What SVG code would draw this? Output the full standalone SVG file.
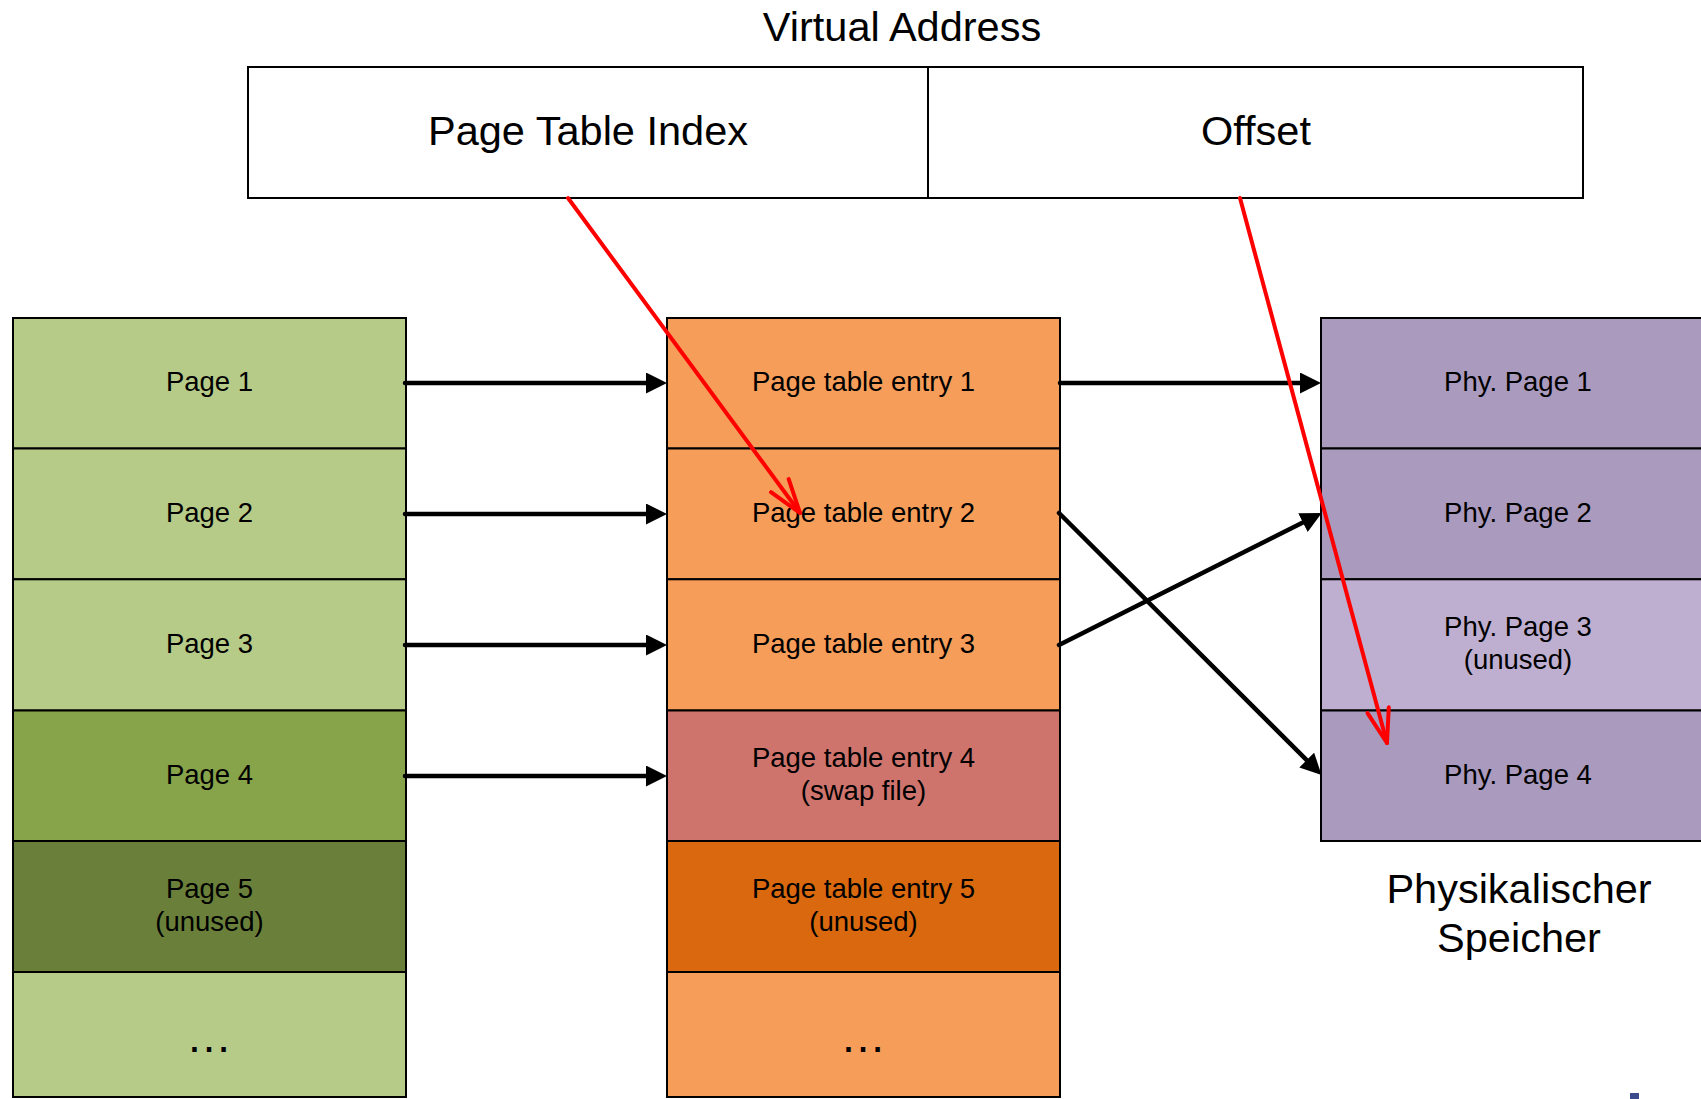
<svg xmlns="http://www.w3.org/2000/svg" width="1701" height="1099" viewBox="0 0 1701 1099">
<defs>
<style>
text{font-family:"Liberation Sans",Arial,sans-serif;fill:#000;text-anchor:middle}
.t{font-size:27.5px}
.big{font-size:41.5px}
.ell{font-size:46px}
.cell{stroke:#000;stroke-width:2}
.g1{fill:#B7CB88}.g2{fill:#87A44A}.g3{fill:#6A803A}
.o1{fill:#F59D59}.o2{fill:#CE746C}.o3{fill:#D9680F}
.p1{fill:#A99ABE}.p2{fill:#BEAFD0}
.blk{stroke:#000;stroke-width:4.5;fill:none;stroke-linecap:round}
.red{stroke:#FF0000;stroke-width:4;fill:none;stroke-linecap:round}
</style>
<marker id="ah" viewBox="0 0 21 21" refX="11" refY="10.5" markerWidth="21" markerHeight="21" markerUnits="userSpaceOnUse" orient="auto">
<path d="M0,0 L21,10.5 L0,21 Z" fill="#000"/>
</marker>
<marker id="rh" viewBox="0 0 40 30" refX="36" refY="15" markerWidth="40" markerHeight="30" markerUnits="userSpaceOnUse" orient="auto">
<path d="M2,4 L36,15 L2,26" fill="none" stroke="#FF0000" stroke-width="4" stroke-linecap="round" stroke-linejoin="round"/>
</marker>
</defs>
<rect width="1701" height="1099" fill="#fff"/>

<g id="title"><text class="big" x="902" y="41">Virtual Address</text></g>

<g id="va-index">
<rect x="248" y="67" width="680" height="131" fill="#fff" class="cell"/>
<text class="big" x="588" y="144.5">Page Table Index</text>
</g>
<g id="va-offset">
<rect x="928" y="67" width="655" height="131" fill="#fff" class="cell"/>
<text class="big" x="1256" y="144.5">Offset</text>
</g>

<g id="page1"><rect class="cell g1" x="13" y="318" width="393" height="130.5"/><text class="t" x="209.5" y="390.6">Page 1</text></g>
<g id="page2"><rect class="cell g1" x="13" y="448.5" width="393" height="130.8"/><text class="t" x="209.5" y="521.5">Page 2</text></g>
<g id="page3"><rect class="cell g1" x="13" y="579.3" width="393" height="131.2"/><text class="t" x="209.5" y="652.5">Page 3</text></g>
<g id="page4"><rect class="cell g2" x="13" y="710.5" width="393" height="130.5"/><text class="t" x="209.5" y="783.5">Page 4</text></g>
<g id="page5"><rect class="cell g3" x="13" y="841" width="393" height="131"/><text class="t" x="209.5" y="897.6">Page 5</text><text class="t" x="209.5" y="930.6">(unused)</text></g>
<g id="page-more"><rect class="cell g1" x="13" y="972" width="393" height="125"/><text class="ell" x="209" y="1052">…</text></g>

<g id="pte1"><rect class="cell o1" x="667" y="318" width="393" height="130.5"/><text class="t" x="863.5" y="390.6">Page table entry 1</text></g>
<g id="pte2"><rect class="cell o1" x="667" y="448.5" width="393" height="130.8"/><text class="t" x="863.5" y="521.5">Page table entry 2</text></g>
<g id="pte3"><rect class="cell o1" x="667" y="579.3" width="393" height="131.2"/><text class="t" x="863.5" y="652.5">Page table entry 3</text></g>
<g id="pte4"><rect class="cell o2" x="667" y="710.5" width="393" height="130.5"/><text class="t" x="863.5" y="766.6">Page table entry 4</text><text class="t" x="863.5" y="799.6">(swap file)</text></g>
<g id="pte5"><rect class="cell o3" x="667" y="841" width="393" height="131"/><text class="t" x="863.5" y="897.6">Page table entry 5</text><text class="t" x="863.5" y="930.6">(unused)</text></g>
<g id="pte-more"><rect class="cell o1" x="667" y="972" width="393" height="125"/><text class="ell" x="863" y="1052">…</text></g>

<g id="phy1"><rect class="cell p1" x="1321" y="318" width="393" height="130.5"/><text class="t" x="1518" y="390.6">Phy. Page 1</text></g>
<g id="phy2"><rect class="cell p1" x="1321" y="448.5" width="393" height="130.8"/><text class="t" x="1518" y="521.5">Phy. Page 2</text></g>
<g id="phy3"><rect class="cell p2" x="1321" y="579.3" width="393" height="131.2"/><text class="t" x="1518" y="635.6">Phy. Page 3</text><text class="t" x="1518" y="668.6">(unused)</text></g>
<g id="phy4"><rect class="cell p1" x="1321" y="710.5" width="393" height="130.5"/><text class="t" x="1518" y="783.5">Phy. Page 4</text></g>

<g id="phys-label"><text class="big" x="1519" y="902.6">Physikalischer</text><text class="big" x="1519" y="951.5">Speicher</text></g>

<g id="connectors">
<line class="blk" x1="405" y1="383" x2="657" y2="383" marker-end="url(#ah)"/>
<line class="blk" x1="405" y1="514" x2="657" y2="514" marker-end="url(#ah)"/>
<line class="blk" x1="405" y1="645" x2="657" y2="645" marker-end="url(#ah)"/>
<line class="blk" x1="405" y1="776" x2="657" y2="776" marker-end="url(#ah)"/>
<line class="blk" x1="1060" y1="383" x2="1311" y2="383" marker-end="url(#ah)"/>
<line class="blk" x1="1059" y1="513" x2="1314.5" y2="767.9" marker-end="url(#ah)"/>
<line class="blk" x1="1059" y1="645" x2="1312.8" y2="517.6" marker-end="url(#ah)"/>
<line class="red" x1="568" y1="198" x2="800" y2="513" marker-end="url(#rh)"/>
<line class="red" x1="1240" y1="198" x2="1387" y2="743" marker-end="url(#rh)"/>
</g>

<rect x="1630" y="1093" width="9" height="6" fill="#3B4A8A"/>
</svg>
